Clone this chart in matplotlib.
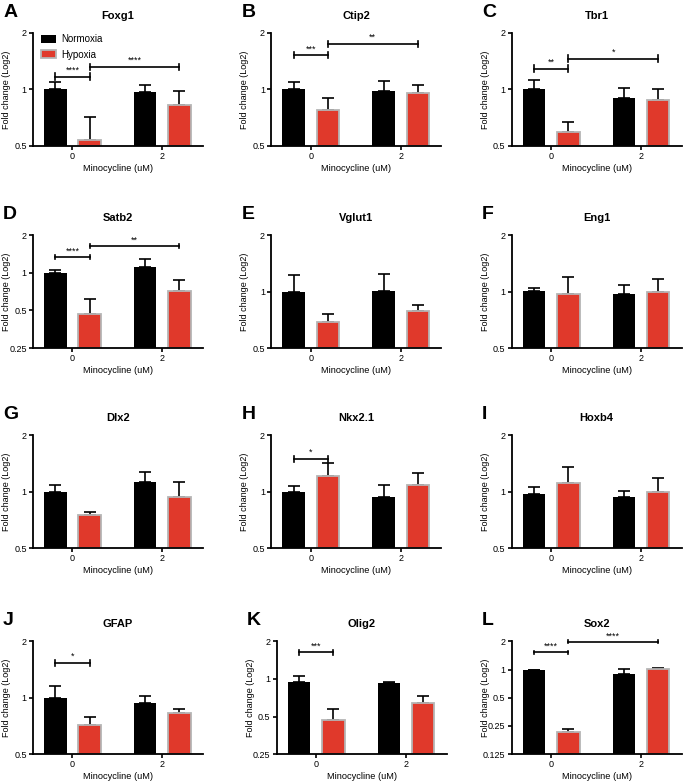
import numpy as np
import matplotlib
matplotlib.use("Agg")
import matplotlib.pyplot as plt
from matplotlib.ticker import FixedLocator, FixedFormatter, NullLocator

# panel data (fold change, log2 axis)
letters = ["A", "B", "C", "D", "E", "F", "G", "H", "I", "J", "K", "L"]
genes = ["Foxg1", "Ctip2", "Tbr1", "Satb2", "Vglut1", "Eng1",
         "Dlx2", "Nkx2.1", "Hoxb4", "GFAP", "Olig2", "Sox2"]
doses = ["0", "2"]

norm_mean = [[1.0, 0.97], [1.0, 0.98], [1.0, 0.90], [1.0, 1.12],
             [1.0, 1.01], [1.01, 0.975], [1.0, 1.13], [1.0, 0.94],
             [0.976, 0.93], [1.0, 0.94], [0.95, 0.93], [1.0, 0.89]]
norm_top = [[1.09, 1.05], [1.09, 1.11], [1.12, 1.02], [1.05, 1.29],
            [1.23, 1.24], [1.05, 1.09], [1.08, 1.27], [1.07, 1.09],
            [1.06, 1.01], [1.16, 1.02], [1.06, 0.94], [1.0, 1.01]]
hyp_mean = [[0.54, 0.83], [0.78, 0.96], [0.59, 0.88], [0.47, 0.72],
            [0.69, 0.79], [0.97, 0.99], [0.75, 0.94], [1.21, 1.08],
            [1.11, 1.0], [0.72, 0.83], [0.47, 0.64], [0.218, 1.01]]
hyp_top = [[0.71, 0.98], [0.90, 1.05], [0.67, 1.01], [0.62, 0.87],
           [0.76, 0.845], [1.19, 1.17], [0.78, 1.13], [1.42, 1.26],
           [1.35, 1.18], [0.79, 0.87], [0.58, 0.73], [0.233, 1.05]]
y_min = [0.5, 0.5, 0.5, 0.25, 0.5, 0.5, 0.5, 0.5, 0.5, 0.5, 0.25, 0.125]

# significance brackets: (panel, from bar, to bar, height, stars)
# bars: 0 = Normoxia 0, 1 = Hypoxia 0, 2 = Normoxia 2, 3 = Hypoxia 2
sig = [(0, 0, 1, 1.17, "****"), (0, 1, 3, 1.32, "****"),
       (1, 0, 1, 1.52, "***"), (1, 1, 3, 1.75, "**"),
       (2, 0, 1, 1.29, "**"), (2, 1, 3, 1.46, "*"),
       (3, 0, 1, 1.33, "****"), (3, 1, 3, 1.63, "**"),
       (7, 0, 1, 1.49, "*"),
       (9, 0, 1, 1.53, "*"),
       (10, 0, 1, 1.63, "***"),
       (11, 0, 1, 1.53, "****"), (11, 1, 3, 1.99, "****")]

red = "#e0392b"
edge = "#b5b5b5"
off = 0.19
bw = 0.25

plt.rcParams["font.family"] = ["Liberation Sans", "DejaVu Sans"]
fig = plt.figure(figsize=(6.85, 7.84), dpi=100)

lefts = [0.048, 0.396, 0.747]
bottoms = [0.814, 0.556, 0.301, 0.038]
w, h = 0.248, 0.144

axes = []
for i in range(12):
    r, c = divmod(i, 3)
    lx = lefts[c]
    if i == 10:
        lx += 0.008
    ax = fig.add_axes([lx, bottoms[r], w, h])
    axes.append(ax)
    ymin = y_min[i]
    x = np.arange(2)
    nm = np.array(norm_mean[i])
    hm = np.array(hyp_mean[i])
    ax.bar(x - off, nm - ymin, bw, bottom=ymin, color="black", label="Normoxia", zorder=2)
    ax.bar(x + off, hm - ymin, bw, bottom=ymin, color=red, edgecolor=edge,
           linewidth=1.3, label="Hypoxia", zorder=2)
    ne = np.array(norm_top[i]) - nm
    he = np.array(hyp_top[i]) - hm
    ax.errorbar(x - off, nm, yerr=[np.zeros(2), ne], fmt="none", ecolor="black",
                elinewidth=1.2, capsize=4.2, capthick=1.2, zorder=1)
    ax.errorbar(x + off, hm, yerr=[np.zeros(2), he], fmt="none", ecolor="black",
                elinewidth=1.2, capsize=4.2, capthick=1.2, zorder=1)

    ax.set_yscale("log", base=2)
    ax.set_ylim(ymin, 2)
    ax.set_xlim(-0.44, 1.45)
    ticks = [t for t in [0.125, 0.25, 0.5, 1, 2] if t >= ymin]
    ax.yaxis.set_major_locator(FixedLocator(ticks))
    ax.yaxis.set_major_formatter(FixedFormatter([("%g" % t) for t in ticks]))
    ax.yaxis.set_minor_locator(NullLocator())
    ax.set_xticks(x)
    ax.set_xticklabels(doses)
    ax.tick_params(labelsize=6.5, width=1.2, length=3, pad=1.5)
    for s in ["top", "right"]:
        ax.spines[s].set_visible(False)
    for s in ["left", "bottom"]:
        ax.spines[s].set_linewidth(1.3)
    ax.set_ylabel("Fold change (Log2)", fontsize=6.5)
    ax.yaxis.set_label_coords(-0.13, 0.5)
    ax.set_xlabel("Minocycline (uM)", fontsize=6.7, labelpad=2)
    ax.set_title(genes[i], fontsize=8, fontweight="bold", pad=10)
    ax.text(-0.175, 1.26, letters[i], transform=ax.transAxes, fontsize=14,
            fontweight="bold", va="top", ha="left")

pos = [-off, off, 1 - off, 1 + off]
for p, a, b, yv, lab in sig:
    ax = axes[p]
    ax.plot([pos[a], pos[b]], [yv, yv], color="black", lw=1.2, zorder=3, clip_on=False)
    cap = 1.04
    for xx in (pos[a], pos[b]):
        ax.plot([xx, xx], [yv / cap, yv * cap], color="black", lw=1.2, zorder=3, clip_on=False)
    ax.text((pos[a] + pos[b]) / 2, yv * 1.025, lab, ha="center", va="bottom", fontsize=6.5)

axes[0].legend(loc="upper left", fontsize=7, frameon=False, handlelength=1.5,
               handleheight=0.9, handletextpad=0.6, borderaxespad=0.1,
               labelspacing=0.55, bbox_to_anchor=(0.02, 1.03))

fig.savefig("out.png", dpi=100)
